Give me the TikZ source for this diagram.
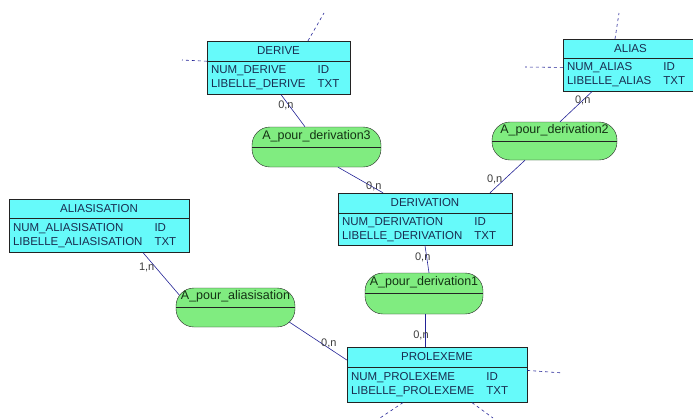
\documentclass[tikz,border=0pt]{standalone}
\usepackage{fontspec}
\setmainfont{Liberation Sans}
\usepackage{tikz}
\usetikzlibrary{positioning}
\definecolor{entcyan}{RGB}{102,250,250}
\definecolor{relgreen}{RGB}{128,236,128}
\definecolor{boxline}{RGB}{35,35,35}
\definecolor{linkblue}{RGB}{35,35,150}
\definecolor{enttext}{RGB}{25,45,80}
\definecolor{reltext}{RGB}{20,50,20}
\definecolor{cardgray}{RGB}{60,60,60}
\newcommand{\entfont}{\fontsize{11.5}{14}\selectfont}
\newcommand{\relfont}{\fontsize{12.5}{14}\selectfont}
\newcommand{\cardfont}{\fontsize{11}{13}\selectfont}
\newcommand{\attlist}[4]{\begin{tabular}{@{}l@{\hspace{12pt}}l@{}}#1 & #2\\#3 & #4\end{tabular}}

\begin{document}
\begin{tikzpicture}[x=1pt, y=-1pt,
  entity/.style={draw=boxline, fill=entcyan, text=enttext, inner sep=0pt, minimum height=20pt, font=\entfont},
  attr/.style={draw=boxline, fill=entcyan, text=enttext, inner xsep=4pt, inner ysep=0pt, minimum height=33pt, align=left, font=\entfont},
  rel/.style={draw=boxline, fill=relgreen, text=reltext, rounded corners=18pt, minimum height=40pt, text height=9pt, text depth=25pt, inner sep=1pt, font=\relfont},
  link/.style={draw=linkblue, line width=0.6pt},
  stub/.style={draw=linkblue, line width=0.6pt, dashed},
  card/.style={font=\cardfont, text=cardgray, inner sep=0pt}]
\useasboundingbox (0,0) rectangle (693,418);

\node[entity, minimum width=143pt](derive) at (278.5, 51) {DERIVE};
\node[attr, below=0pt of derive, text width=135pt](deriveatt) {\attlist{NUM\_DERIVE}{ID}{LIBELLE\_DERIVE}{TXT}};
\node[entity, minimum width=135pt, minimum height=19pt](alias) at (630.5, 48.5) {ALIAS};
\node[attr, below=0pt of alias, text width=127pt](aliasatt) {\attlist{NUM\_ALIAS}{ID}{LIBELLE\_ALIAS}{TXT}};
\node[entity, minimum width=174pt](derivation) at (425, 203) {DERIVATION};
\node[attr, below=0pt of derivation, text width=166pt, minimum height=32pt](derivationatt) {\attlist{NUM\_DERIVATION}{ID}{LIBELLE\_DERIVATION}{TXT}};
\node[entity, minimum width=180pt, minimum height=19pt](aliasisation) at (99, 208.5) {ALIASISATION};
\node[attr, below=0pt of aliasisation, text width=172pt, minimum height=34pt](aliasisationatt) {\attlist{NUM\_ALIASISATION}{ID}{LIBELLE\_ALIASISATION}{TXT}};
\node[entity, minimum width=180pt](prolexeme) at (437, 357) {PROLEXEME};
\node[attr, below=0pt of prolexeme, text width=172pt, minimum height=35pt](prolexemeatt) {\attlist{NUM\_PROLEXEME}{ID}{LIBELLE\_PROLEXEME}{TXT}};

\node[rel, minimum width=129pt](der3) at (316.5, 147) {A\_pour\_derivation3};
\node[rel, minimum width=125pt, minimum height=38pt](der2) at (554.5, 141) {A\_pour\_derivation2};
\node[rel, minimum width=119pt, minimum height=39pt](alir) at (235.5, 307.5) {A\_pour\_aliasisation};
\node[rel, minimum width=118pt, minimum height=41pt](der1) at (424, 293.5) {A\_pour\_derivation1};
\draw[boxline] (der3.west) -- (der3.east);
\draw[boxline] (der2.west) -- (der2.east);
\draw[boxline] (alir.west) -- (alir.east);
\draw[boxline] (der1.west) -- (der1.east);

\draw[link] ([xshift=2.5pt]deriveatt.south) -- node[card, pos=0.33, xshift=-3pt]{0,n} ([xshift=-11.5pt]der3.north);
\draw[link] ([xshift=21.5pt]der3.south) -- node[card, pos=0.73, xshift=3pt]{0,n} ([xshift=-42pt]derivation.north);
\draw[link] ([xshift=-38.5pt]aliasatt.south) -- node[card, pos=0.29]{0,n} ([xshift=5.5pt]der2.north);
\draw[link] ([xshift=-29.5pt]der2.south) -- node[card, pos=0.58, xshift=-10pt]{0,n} ([xshift=65pt]derivation.north);
\draw[link] (derivationatt.south) -- node[card, pos=0.43, xshift=-4pt]{0,n} ([xshift=5pt]der1.north);
\draw[link] ([xshift=1pt]der1.south) -- node[card, pos=0.64, xshift=-4pt]{0,n} ([xshift=-12pt]prolexeme.north);
\draw[link] ([xshift=44pt]aliasisationatt.south) -- node[card, pos=0.35, xshift=-9pt]{1,n} ([xshift=3.5pt, yshift=12.5pt]alir.west);
\draw[link] ([xshift=-6pt, yshift=-14.5pt]alir.east) -- node[card, pos=0.55, xshift=8pt]{0,n} ([yshift=-3pt]prolexeme.west);

\coordinate (dtop) at (324, 13);
\coordinate (dleft) at (182, 60);
\coordinate (atop) at (619, 13);
\coordinate (aleft) at (525, 67);
\coordinate (pright) at (563, 373);
\coordinate (pbl) at (380, 418);
\coordinate (pbr) at (493, 418);
\draw[stub] ([xshift=29.5pt]derive.north) -- (dtop);
\draw[stub] (deriveatt.north west) -- (dleft);
\draw[stub] ([xshift=-15.5pt]alias.north) -- (atop);
\draw[stub] ([yshift=7.5pt]aliasatt.west) -- (aleft);
\draw[stub] ([yshift=14.5pt]prolexemeatt.east) -- (pright);
\draw[stub] ([xshift=-34pt]prolexemeatt.south) -- (pbl);
\draw[stub] ([xshift=35pt]prolexemeatt.south) -- (pbr);
\end{tikzpicture}
\end{document}
